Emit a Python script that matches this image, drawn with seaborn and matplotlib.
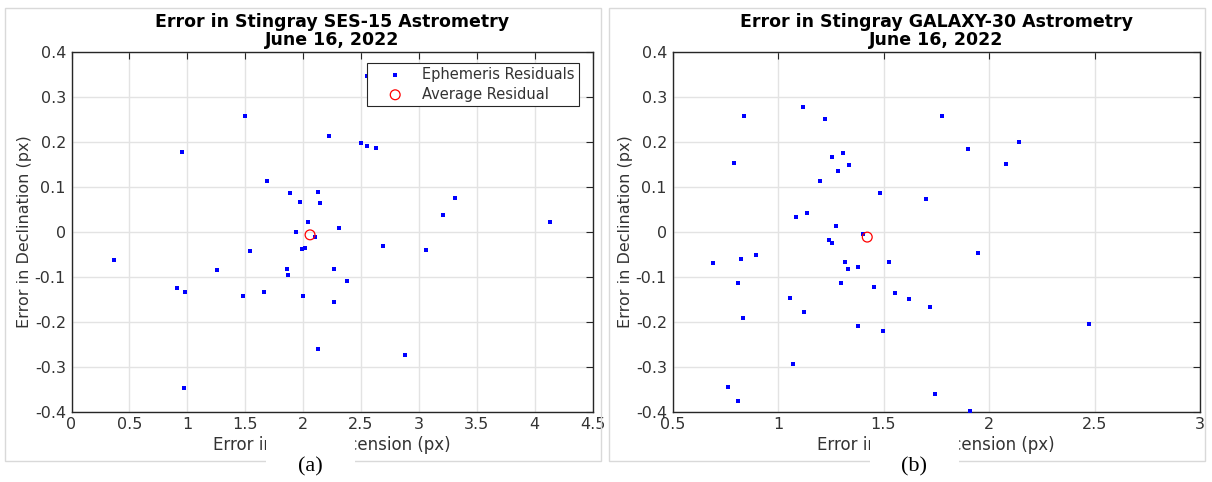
import seaborn as sns
import matplotlib.pyplot as plt
import matplotlib.patches as patches
import pandas as pd

# SES-15 residuals (px)
ses_ra = [0.37, 0.91, 0.95, 0.97, 0.98, 1.26, 1.48, 1.50, 1.54, 1.66, 1.69, 1.86, 1.87,
          1.89, 1.94, 1.97, 1.99, 2.00, 2.02, 2.04, 2.10, 2.13, 2.13, 2.15, 2.22, 2.27,
          2.27, 2.31, 2.38, 2.50, 2.55, 2.55, 2.63, 2.69, 2.88, 3.06, 3.21, 3.31, 4.13]
ses_dec = [-0.063, -0.125, 0.177, -0.348, -0.135, -0.084, -0.142, 0.258, -0.042, -0.133,
           0.113, -0.082, -0.096, 0.085, 0.000, 0.065, -0.039, -0.142, -0.037, 0.021,
           -0.011, 0.089, -0.260, 0.063, 0.213, -0.082, -0.157, 0.009, -0.109, 0.197,
           0.190, 0.347, 0.186, -0.031, -0.274, -0.040, 0.038, 0.075, 0.021]
ses_avg = (2.06, -0.007)

# GALAXY-30 residuals (px)
gal_ra = [0.69, 0.764, 0.791, 0.81, 0.81, 0.826, 0.833, 0.841, 0.896, 1.059, 1.070, 1.084,
          1.117, 1.124, 1.137, 1.201, 1.222, 1.244, 1.254, 1.256, 1.274, 1.285, 1.298,
          1.306, 1.318, 1.330, 1.335, 1.377, 1.381, 1.403, 1.454, 1.482, 1.496, 1.524,
          1.553, 1.623, 1.700, 1.720, 1.744, 1.775, 1.899, 1.908, 1.947, 2.082, 2.143, 2.474]
gal_dec = [-0.069, -0.346, 0.152, -0.376, -0.114, -0.061, -0.191, 0.257, -0.051, -0.148,
           -0.294, 0.033, 0.277, -0.179, 0.042, 0.112, 0.250, -0.018, 0.167, -0.024, 0.013,
           0.135, -0.113, 0.174, -0.068, -0.082, 0.148, -0.078, -0.210, -0.004, -0.123,
           0.086, -0.220, -0.068, -0.137, -0.149, 0.072, -0.167, -0.360, 0.257, 0.184,
           -0.399, -0.047, 0.151, 0.200, -0.206]
gal_avg = (1.423, -0.012)

sns.set_theme(style='white')
plt.rcParams['font.family'] = ['DejaVu Sans']

W, H = 1212, 482
fig = plt.figure(figsize=(W / 100, H / 100), dpi=100)

# light frames around each sub-figure
for x0, x1 in [(5, 601), (609, 1205)]:
    fig.patches.append(patches.Rectangle((x0 / W, 1 - 461 / H), (x1 - x0) / W, (461 - 8) / H,
                                         transform=fig.transFigure, fill=False,
                                         edgecolor='#d9d9d9', linewidth=1))

panels = [
    dict(ra=ses_ra, dec=ses_dec, avg=ses_avg, name='SES-15', box=(71.5, 592.6),
         xlim=(0, 4.5), xticks=[0, 0.5, 1, 1.5, 2, 2.5, 3, 3.5, 4, 4.5], legend=True),
    dict(ra=gal_ra, dec=gal_dec, avg=gal_avg, name='GALAXY-30', box=(672.5, 1200),
         xlim=(0.5, 3), xticks=[0.5, 1, 1.5, 2, 2.5, 3], legend=False),
]

for p in panels:
    l, r = p['box']
    ax = fig.add_axes([l / W, 1 - 411.7 / H, (r - l) / W, (411.7 - 51.7) / H])
    df = pd.DataFrame({'ra': p['ra'], 'dec': p['dec']})
    sns.scatterplot(data=df, x='ra', y='dec', ax=ax, marker='s', s=12, color='#0000ff',
                    linewidth=0, label='Ephemeris Residuals', zorder=3)
    ax.scatter([p['avg'][0]], [p['avg'][1]], s=50, facecolors='none', edgecolors='#ff0000',
               linewidths=0.9, label='Average Residual', zorder=4)
    ax.set_xlim(p['xlim'])
    ax.set_ylim(-0.4, 0.4)
    ax.set_xticks(p['xticks'])
    ax.set_xticklabels([f'{t:g}' for t in p['xticks']])
    yt = [-0.4, -0.3, -0.2, -0.1, 0, 0.1, 0.2, 0.3, 0.4]
    ax.set_yticks(yt)
    ax.set_yticklabels([f'{t:g}' for t in yt])
    ax.grid(True, color='#e3e3e3', linewidth=1)
    ax.set_axisbelow(True)
    for s in ax.spines.values():
        s.set_color('#262626')
        s.set_linewidth(1)
        s.set_visible(True)
    ax.tick_params(direction='in', top=True, right=True, length=5, width=0.8,
                   color='#262626', labelcolor='#333333', labelsize=11.5, pad=4)
    ax.set_xlabel('Error in Right Ascension (px)', fontsize=12, color='#333333', labelpad=3)
    ax.set_ylabel('Error in Declination (px)', fontsize=11.5, color='#333333', labelpad=2)
    ax.set_title(f"Error in Stingray {p['name']} Astrometry\nJune 16, 2022",
                 fontsize=12.5, fontweight='bold', color='black', pad=5, linespacing=1.0)
    if p['legend']:
        leg = ax.legend(loc='upper right', bbox_to_anchor=(0.974, 0.969), borderaxespad=0,
                        fontsize=10.5, frameon=True, fancybox=False, edgecolor='#262626',
                        framealpha=1, handletextpad=0.2, borderpad=0.3, labelspacing=0.3,
                        handlelength=3.3)
        leg.get_frame().set_linewidth(0.8)
        leg.set_zorder(6)
        for t in leg.get_texts():
            t.set_color('#333333')
    else:
        ax.get_legend().remove()

# caption boxes covering part of the x labels
for x0, cap in [(266, '(a)'), (870, '(b)')]:
    fig.patches.append(patches.Rectangle((x0 / W, 0), 89 / W, (H - 432) / H,
                                         transform=fig.transFigure, facecolor='white',
                                         edgecolor='none', zorder=5))
    fig.text((x0 + 44) / W, 1 - 467 / H, cap, ha='center', va='center', fontsize=16,
             family=['Liberation Serif'], color='black', zorder=6)

fig.savefig('out.png', dpi=100)
